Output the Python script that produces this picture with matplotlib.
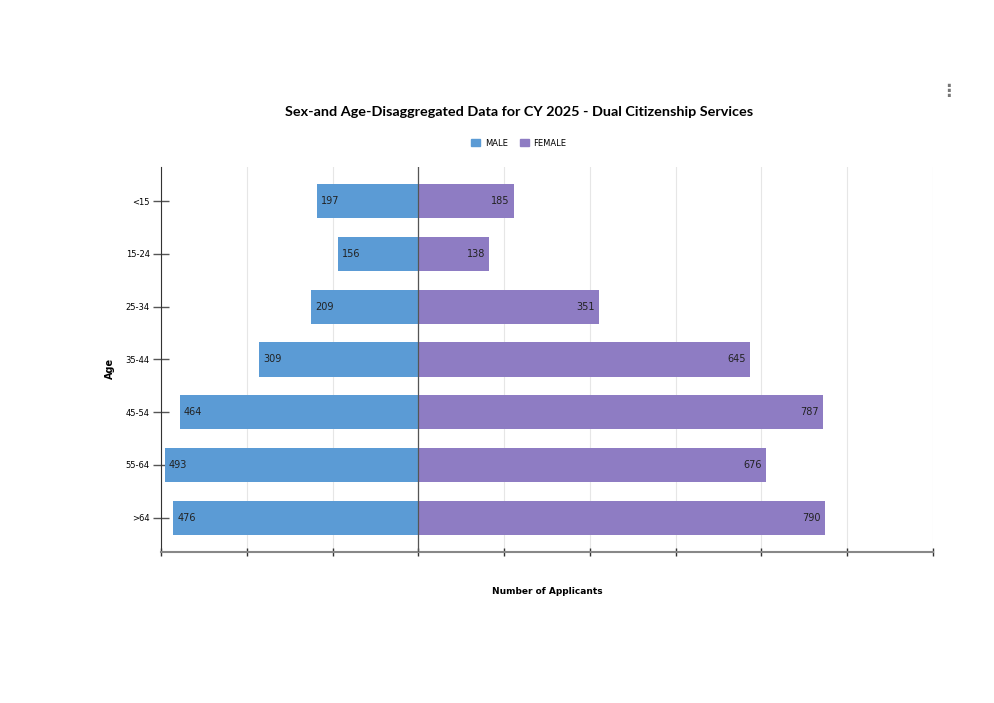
import numpy as np
import matplotlib.pyplot as plt

age_groups = ["<15", "15-24", "25-34", "35-44", "45-54", "55-64", ">64"]
male = [197, 156, 209, 309, 464, 493, 476]
female = [185, 138, 351, 645, 787, 676, 790]

male_color = "#5B9BD5"
female_color = "#8E7CC3"

fig = plt.figure(figsize=(9.95, 7.03), dpi=100)
ax = fig.add_axes([0.1618, 0.2148, 0.7759, 0.5477])

y = np.arange(len(age_groups))
ax.barh(y, [-m for m in male], height=0.65, color=male_color, zorder=3)
ax.barh(y, female, height=0.65, color=female_color, zorder=3)

for i, (m, f) in enumerate(zip(male, female)):
    ax.text(-m + 8, i, str(m), va="center", ha="left", fontsize=7, color="#222222", zorder=4)
    ax.text(f - 8, i, str(f), va="center", ha="right", fontsize=7, color="#222222", zorder=4)

ax.set_xlim(-500, 1000)
ax.set_ylim(len(age_groups) - 0.35, -0.65)
ax.set_xticks(np.linspace(-500, 1000, 10))
ax.set_xticklabels([])
ax.set_yticks(y)
ax.set_yticklabels(age_groups, fontsize=6)
ax.grid(axis="x", color="#e6e6e6", linewidth=0.8, zorder=0)
ax.axvline(0, color="#555555", linewidth=0.9, zorder=4)

for side in ["top", "right"]:
    ax.spines[side].set_visible(False)
ax.spines["left"].set_color("#333333")
ax.spines["bottom"].set_color("#888888")
ax.spines["bottom"].set_linewidth(1.5)
ax.tick_params(axis="y", length=12, width=1, color="#555555", pad=2, direction="inout")
ax.tick_params(axis="x", length=6, width=1, color="#333333", direction="inout")

fig.text(519 / 995, 1 - 112 / 703, "Sex-and Age-Disaggregated Data for CY 2025 - Dual Citizenship Services",
         ha="center", va="center", fontsize=10.4, fontweight="bold", family="Lato")
fig.text(110 / 995, 1 - 368 / 703, "Age", rotation=90, ha="center", va="center",
         fontsize=7, fontweight="bold")
fig.text(547 / 995, 1 - 591 / 703, "Number of Applicants", ha="center", va="center",
         fontsize=6.5, fontweight="heavy")

# legend
handles = [plt.Rectangle((0, 0), 1, 1, color=male_color),
           plt.Rectangle((0, 0), 1, 1, color=female_color)]
fig.legend(handles, ["MALE", "FEMALE"], loc="center", bbox_to_anchor=(519 / 995, 1 - 143 / 703),
           ncol=2, frameon=False, fontsize=6, handlelength=1.0, handleheight=1.0,
           columnspacing=1.5, handletextpad=0.6)

fig.text(948 / 995, 1 - 91 / 703, "⋮", ha="center", va="center", fontsize=12,
         color="#777777", fontweight="bold")

fig.savefig("out.png", dpi=100, facecolor="white")
